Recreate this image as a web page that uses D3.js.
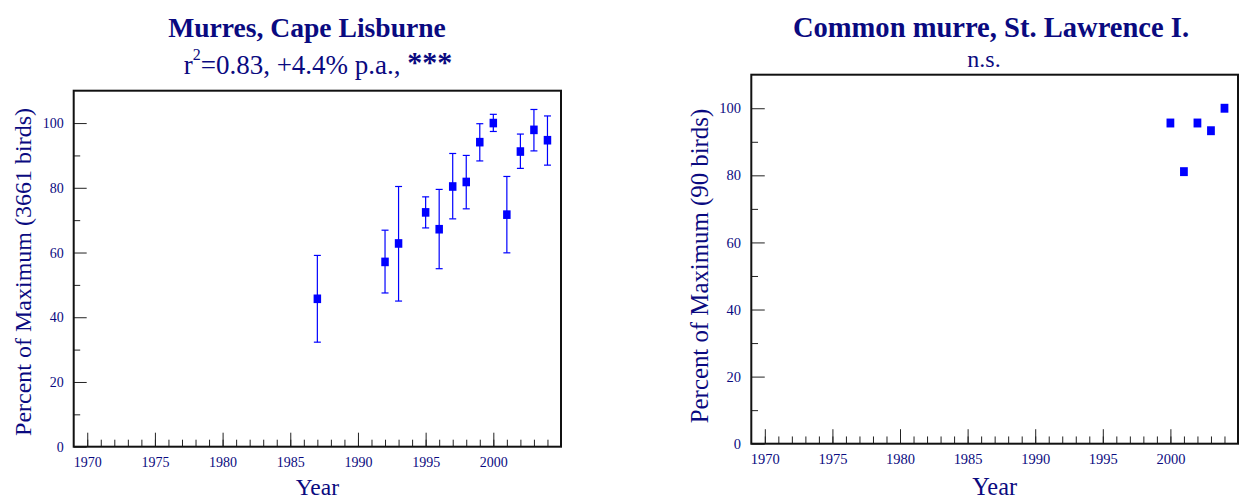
<!DOCTYPE html>
<html>
<head>
<meta charset="utf-8">
<script src="https://cdn.jsdelivr.net/npm/d3@7"></script>
<style>
  html, body { margin: 0; padding: 0; background: #ffffff; }
  svg { display: block; }
  text { font-family: "Liberation Serif", "Times New Roman", serif; }
</style>
</head>
<body>
<svg id="chart" width="1239" height="501"></svg>
<script>
// ---- Data ----
const leftYears  = [1987, 1992, 1993, 1995, 1996, 1997, 1998, 1999, 2000, 2001, 2002, 2003, 2004];
const leftValues = [45.7, 57.1, 62.8, 72.4, 67.2, 80.4, 81.8, 94.1, 100, 71.7, 91.2, 97.9, 94.7];
const leftUpper  = [59.1, 66.9, 80.4, 77.2, 79.5, 90.6, 90.0, 99.8, 102.7, 83.5, 96.6, 104.2, 102.2];
const leftLower  = [32.3, 47.5, 45.0, 67.6, 55.0, 70.4, 73.5, 88.3, 97.4, 59.9, 86.0, 91.4, 87.0];

const rightYears  = [2000, 2001, 2002, 2003, 2004];
const rightValues = [95.6, 81.1, 95.6, 93.3, 100];

const yTickValues = [0, 20, 40, 60, 80, 100];
const yMinorValues = [10, 30, 50, 70, 90];
const xTickLabels = [1970, 1975, 1980, 1985, 1990, 1995, 2000];
const xMinorYears = d3.range(1970, 2005);

const leftTitle = "Murres, Cape Lisburne";
const leftYLabel = "Percent of Maximum (3661 birds)";
const rightTitle = "Common murre, St. Lawrence I.";
const rightSubtitle = "n.s.";
const rightYLabel = "Percent of Maximum (90 birds)";
const xLabel = "Year";

const TEXT = "#0a0a80";
const MARK = "#0000ff";

const svg = d3.select("#chart");

function panel(cfg) {
  const x = d3.scaleLinear().domain([1969, 2005]).range([cfg.x0, cfg.x1]);
  const y = d3.scaleLinear().domain([0, 110]).range([cfg.y0, cfg.y1]);
  const s = cfg.s;
  const g = svg.append("g");

  // minor y ticks
  g.append("g").attr("transform", `translate(${cfg.x0},0)`)
    .call(d3.axisLeft(y).tickValues(yMinorValues).tickSizeInner(-6.5 * s).tickSizeOuter(0).tickFormat(""))
    .call(a => a.select(".domain").remove())
    .call(a => a.selectAll("line").attr("stroke", "#222"));
  // major y ticks
  g.append("g").attr("transform", `translate(${cfg.x0},0)`)
    .call(d3.axisLeft(y).tickValues(yTickValues).tickSizeInner(-13 * s).tickSizeOuter(0).tickPadding(10 * s).tickFormat(d3.format("d")))
    .call(a => a.select(".domain").remove())
    .call(a => a.selectAll("line").attr("stroke", "#222"))
    .call(a => a.selectAll("text").attr("fill", TEXT).style("font-size", (14 * s) + "px")
      .style("font-family", '"Liberation Serif", serif'));

  // minor x ticks
  g.append("g").attr("transform", `translate(0,${cfg.y0})`)
    .call(d3.axisBottom(x).tickValues(xMinorYears).tickSizeInner(-7 * s).tickSizeOuter(0).tickFormat(""))
    .call(a => a.select(".domain").remove())
    .call(a => a.selectAll("line").attr("stroke", "#222"));
  // major x ticks
  g.append("g").attr("transform", `translate(0,${cfg.y0})`)
    .call(d3.axisBottom(x).tickValues(xTickLabels).tickSizeInner(-14 * s).tickSizeOuter(0).tickPadding(10 * s).tickFormat(d3.format("d")))
    .call(a => a.select(".domain").remove())
    .call(a => a.selectAll("line").attr("stroke", "#222"))
    .call(a => a.selectAll("text").attr("fill", TEXT).style("font-size", (14 * s) + "px")
      .style("font-family", '"Liberation Serif", serif'));

  // frame
  g.append("rect")
    .attr("x", cfg.x0).attr("y", cfg.y1)
    .attr("width", cfg.x1 - cfg.x0).attr("height", cfg.y0 - cfg.y1)
    .attr("fill", "none").attr("stroke", "#111").attr("stroke-width", 2);

  // error bars
  if (cfg.upper) {
    const eb = g.append("g").attr("stroke", MARK).attr("stroke-width", 1.2).attr("fill", "none");
    cfg.years.forEach((yr, i) => {
      const cx = x(yr);
      eb.append("line").attr("x1", cx).attr("x2", cx).attr("y1", y(cfg.upper[i])).attr("y2", y(cfg.lower[i]));
      eb.append("line").attr("x1", cx - 3.5).attr("x2", cx + 3.5).attr("y1", y(cfg.upper[i])).attr("y2", y(cfg.upper[i]));
      eb.append("line").attr("x1", cx - 3.5).attr("x2", cx + 3.5).attr("y1", y(cfg.lower[i])).attr("y2", y(cfg.lower[i]));
    });
  }

  // markers
  const mw = 7.5 * s, mh = 8.6 * s;
  g.append("g").selectAll("rect").data(cfg.years).join("rect")
    .attr("x", d => x(d) - mw / 2)
    .attr("y", (d, i) => y(cfg.values[i]) - mh / 2)
    .attr("width", mw).attr("height", mh)
    .attr("fill", MARK);

  // title
  g.append("text").attr("x", cfg.titleX).attr("y", 37)
    .attr("text-anchor", "middle").attr("fill", TEXT)
    .style("font-size", (27.6 * s) + "px").style("font-weight", "bold")
    .text(cfg.title);

  // y label
  g.append("text")
    .attr("transform", `translate(${cfg.yLabelX},${cfg.yLabelY}) rotate(-90)`)
    .attr("text-anchor", "middle").attr("fill", TEXT)
    .style("font-size", (24 * s) + "px")
    .text(cfg.yLabel);

  // x label
  g.append("text").attr("x", (cfg.x0 + cfg.x1) / 2).attr("y", 495)
    .attr("text-anchor", "middle").attr("fill", TEXT)
    .style("font-size", (23.5 * s) + "px")
    .text(xLabel);

  return g;
}

const gL = panel({
  x0: 73.7, x1: 561, y0: 446.7, y1: 90.7, s: 1,
  years: leftYears, values: leftValues, upper: leftUpper, lower: leftLower,
  title: leftTitle, titleX: 307, yLabel: leftYLabel, yLabelX: 31, yLabelY: 272
});

// left subtitle: r^2=0.83, +4.4% p.a., ***
const sub = gL.append("text").attr("x", 318).attr("y", 74)
  .attr("text-anchor", "middle").attr("fill", TEXT)
  .style("font-size", "27px");
sub.append("tspan").text("r");
sub.append("tspan").attr("dy", -14).style("font-size", "16px").text("2");
sub.append("tspan").attr("dy", 14).text("=0.83, +4.4% p.a., ");
sub.append("tspan").attr("dy", -2).style("font-weight", "bold").style("font-size", "30px").text("***");

const gR = panel({
  x0: 751.3, x1: 1238, y0: 443.7, y1: 74.7, s: 1.035,
  years: rightYears, values: rightValues, upper: null, lower: null,
  title: rightTitle, titleX: 991, yLabel: rightYLabel, yLabelX: 708, yLabelY: 266
});

gR.append("text").attr("x", 984).attr("y", 67)
  .attr("text-anchor", "middle").attr("fill", TEXT)
  .style("font-size", "24px")
  .text(rightSubtitle);
</script>
</body>
</html>
